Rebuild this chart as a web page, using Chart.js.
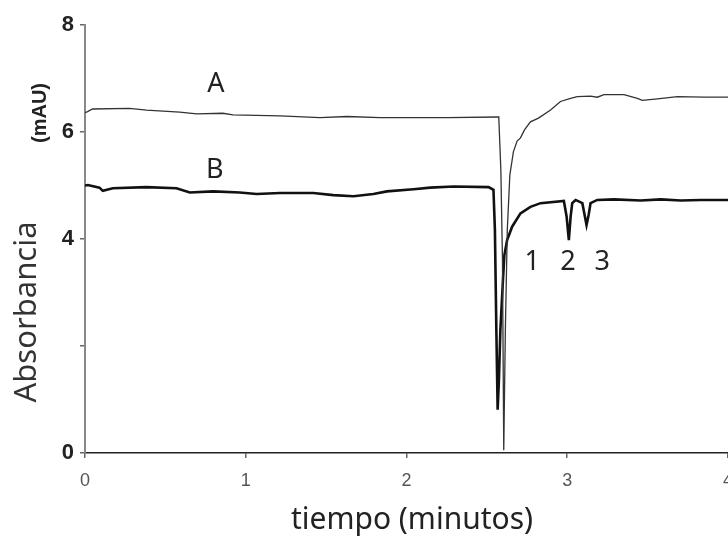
<!DOCTYPE html>
<html>
<head>
<meta charset="utf-8">
<script src="https://cdn.jsdelivr.net/npm/chart.js@4"></script>
<style>
  html, body { margin: 0; padding: 0; background: #fff; overflow: hidden; }
  #wrap { position: relative; width: 745px; height: 537px; }
</style>
</head>
<body>
<div id="wrap"><canvas id="chart"></canvas></div>
<script>
// curve A (thin)
const timeA = [0, 0.016, 0.047, 0.277, 0.383, 0.589, 0.695, 0.857, 0.920, 1.213, 1.462, 1.630, 1.836, 2.042, 2.254, 2.565, 2.574,
  2.587, 2.597, 2.605, 2.615, 2.627, 2.643, 2.665, 2.688, 2.709, 2.734, 2.771, 2.821, 2.896, 2.958, 3.021, 3.062, 3.145,
  3.187, 3.228, 3.353, 3.436, 3.467, 3.561, 3.686, 3.850, 4.006];
const absA = [6.36, 6.38, 6.43, 6.44, 6.41, 6.37, 6.34, 6.35, 6.32, 6.30, 6.27, 6.29, 6.27, 6.27, 6.27, 6.28, 6.28,
  5.29, 3.61, 0.05, 2.30, 4.17, 5.20, 5.63, 5.83, 5.89, 6.04, 6.19, 6.26, 6.41, 6.57, 6.63, 6.66, 6.67,
  6.65, 6.70, 6.70, 6.63, 6.59, 6.62, 6.66, 6.65, 6.65];

// curve B (thick)
const timeB = [0, 0.018, 0.090, 0.111, 0.173, 0.381, 0.569, 0.652, 0.797, 0.963, 1.067, 1.213, 1.420, 1.545, 1.670, 1.794,
  1.878, 2.044, 2.148, 2.293, 2.511, 2.541, 2.550, 2.559, 2.567, 2.575, 2.584, 2.600, 2.609, 2.626, 2.657, 2.709, 2.771,
  2.834, 2.979, 2.996, 3.010, 3.021, 3.031, 3.052, 3.094, 3.108, 3.120, 3.133, 3.145, 3.187, 3.291, 3.457, 3.582, 3.706,
  3.831, 4.005];
const absB = [5.00, 5.01, 4.96, 4.90, 4.95, 4.97, 4.95, 4.87, 4.89, 4.87, 4.84, 4.86, 4.86, 4.82, 4.80, 4.84,
  4.89, 4.93, 4.96, 4.98, 4.97, 4.92, 4.17, 2.30, 0.81, 1.37, 2.30, 3.23, 3.70, 3.98, 4.23, 4.48, 4.60,
  4.67, 4.71, 4.42, 3.98, 4.42, 4.67, 4.73, 4.67, 4.45, 4.26, 4.45, 4.67, 4.73, 4.74, 4.72, 4.74, 4.72,
  4.73, 4.73];

const xTicks = [0, 1, 2, 3, 4];
const yTicks = [0, 2, 4, 6, 8];
const yTickLabels = ["0", "", "4", "6", "8"];

// trace labels, in data units
const noteText = ["A", "B", "1", "2", "3"];
const noteX = [0.814, 0.807, 2.782, 3.004, 3.218];
const noteY = [6.89, 5.29, 3.57, 3.57, 3.57];

const toPoints = (xs, ys) => xs.map((x, i) => ({ x, y: ys[i] }));

const textPlugin = {
  id: "texts",
  afterDraw(chart) {
    const { ctx, scales } = chart;
    ctx.save();
    ctx.fillStyle = "#222";
    ctx.textAlign = "center";
    ctx.textBaseline = "middle";
    ctx.font = "27px 'Noto Sans'";
    noteText.forEach((t, i) => {
      ctx.fillText(t, scales.x.getPixelForValue(noteX[i]), scales.y.getPixelForValue(noteY[i]));
    });

    ctx.font = "30px 'Noto Sans'";
    ctx.fillText("tiempo (minutos)", 412, 520);

    ctx.save();
    ctx.translate(27, 312);
    ctx.rotate(-Math.PI / 2);
    ctx.fillStyle = "#333";
    ctx.font = "31px 'Noto Sans'";
    ctx.fillText("Absorbancia", 0, 0);
    ctx.restore();

    ctx.save();
    ctx.translate(40, 113);
    ctx.rotate(-Math.PI / 2);
    ctx.font = "bold 20px 'Liberation Sans'";
    ctx.fillText("(mAU)", 0, 0);
    ctx.restore();
    ctx.restore();
  },
};

new Chart(document.getElementById("chart"), {
  type: "line",
  data: {
    datasets: [
      { label: "A", data: toPoints(timeA, absA), borderColor: "#333", borderWidth: 1.3, pointRadius: 0, tension: 0, fill: false },
      { label: "B", data: toPoints(timeB, absB), borderColor: "#111", borderWidth: 2.6, pointRadius: 0, tension: 0, fill: false },
    ],
  },
  options: {
    responsive: true,
    maintainAspectRatio: false,
    animation: false,
    layout: { padding: { top: 25, left: 0, right: 0, bottom: 0 } },
    plugins: { legend: { display: false }, tooltip: { enabled: false } },
    scales: {
      x: {
        type: "linear",
        min: 0,
        max: 4,
        afterBuildTicks: (s) => { s.ticks = xTicks.map((v) => ({ value: v })); },
        afterFit: (s) => { s.height = 84; },
        ticks: { font: { family: "'Liberation Sans'", size: 18 }, color: "#555", padding: 12 },
        grid: { drawOnChartArea: false, drawTicks: true, tickLength: 5, color: "#666", lineWidth: 1.5 },
        border: { color: "#222", width: 1.5 },
      },
      y: {
        min: 0,
        max: 8,
        afterBuildTicks: (s) => { s.ticks = yTicks.map((v) => ({ value: v })); },
        afterFit: (s) => { s.width = 85; },
        ticks: {
          font: { family: "'Liberation Sans'", size: 22, weight: "bold" },
          color: "#222",
          padding: 6,
          callback: (v) => yTickLabels[yTicks.indexOf(v)],
        },
        grid: { drawOnChartArea: false, drawTicks: true, tickLength: 5, color: "#666", lineWidth: 1.5 },
        border: { color: "#888", width: 2 },
      },
    },
  },
  plugins: [textPlugin],
});
</script>
</body>
</html>
